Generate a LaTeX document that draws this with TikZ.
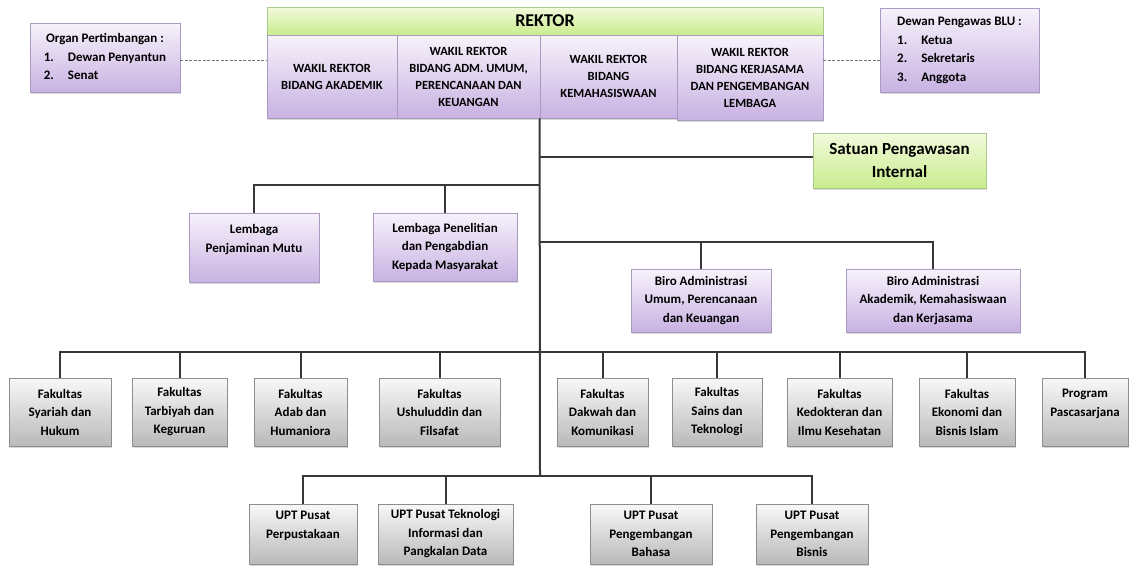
\documentclass[tikz,border=0pt]{standalone}
\usepackage{fontspec}
\setmainfont{Carlito}
\usetikzlibrary{shadows}
\definecolor{pTop}{HTML}{F7F2FB}
\definecolor{pBot}{HTML}{C8B2E2}
\definecolor{pLine}{HTML}{A99BC0}
\definecolor{gTop}{HTML}{F2FADC}
\definecolor{gBot}{HTML}{C9EC8E}
\definecolor{gLine}{HTML}{ABC98A}
\definecolor{sTop}{HTML}{F8F8F8}
\definecolor{sBot}{HTML}{B9B9B9}
\definecolor{sLine}{HTML}{8E8E8E}
\definecolor{connc}{HTML}{383838}
\tikzset{wh/.style 2 args={minimum width=#1pt, minimum height=#2pt}}
\begin{document}
\begin{tikzpicture}[x=1pt,y=-1pt,
 box/.style={align=center, inner sep=0pt, line width=0.8pt, drop shadow={shadow xshift=1.2pt, shadow yshift=-1.5pt, opacity=0.3}},
 pbox/.style={box, draw=pLine, top color=pTop, bottom color=pBot},
 gbox/.style={box, draw=gLine, top color=gTop, bottom color=gBot},
 sbox/.style={box, draw=sLine, top color=sTop, bottom color=sBot},
 small/.style={font=\bfseries\fontsize{13pt}{18.5pt}\selectfont},
 caps/.style={font=\bfseries\fontsize{12.5pt}{17pt}\selectfont},
 conn/.style={draw=connc, line width=2pt},
 dashconn/.style={draw=black!55, line width=1pt, dash pattern=on 3pt off 1.5pt},
]
\fill[white] (0,0) rectangle (1132,568);
\useasboundingbox (0,0) rectangle (1132,568);

% top
\node[gbox, wh={556}{28}, font=\bfseries\fontsize{18pt}{20pt}\selectfont] (rektor) at (545,21) {REKTOR};
\node[pbox, caps, wh={130}{83}] (w1) at (332,76.5) {WAKIL REKTOR\\BIDANG AKADEMIK};
\node[pbox, caps, wh={143}{83}] (w2) at (468.5,76.5) {WAKIL REKTOR\\BIDANG ADM. UMUM,\\PERENCANAAN DAN\\KEUANGAN};
\node[pbox, caps, wh={137}{83}] (w3) at (608.5,76.5) {WAKIL REKTOR\\BIDANG\\KEMAHASISWAAN};
\node[pbox, caps, wh={146}{85}] (w4) at (750,77.5) {WAKIL REKTOR\\BIDANG KERJASAMA\\DAN PENGEMBANGAN\\LEMBAGA};

\node[pbox, small, wh={150}{69}] (organ) at (105,57.5) {\begin{tabular}{@{}l@{\hspace{14pt}}l@{}}\multicolumn{2}{@{}c@{}}{Organ Pertimbangan :}\\ 1. & Dewan Penyantun\\ 2. & Senat\end{tabular}};
\node[pbox, small, wh={159}{84}] (dewan) at (959.5,50) {\begin{tabular}{@{}l@{\hspace{14pt}}l@{}}\multicolumn{2}{@{}c@{}}{Dewan Pengawas BLU :}\\ 1. & Ketua\\ 2. & Sekretaris\\ 3. & Anggota\end{tabular}};

\draw[dashconn] ([yshift=-2.5pt]organ.east) -- ([yshift=-2.5pt]organ.east -| w1.west);
\draw[dashconn] ([yshift=-10pt]dewan.west -| w4.east) -- ([yshift=-10pt]dewan.west);

% middle
\node[gbox, wh={173}{55}, font=\bfseries\fontsize{17pt}{23pt}\selectfont] (spi) at (899.5,160.5) {Satuan Pengawasan\\Internal};
\node[pbox, small, wh={130}{69}] (lpm) at (254,247.5) {Lembaga\\Penjaminan Mutu\\\mbox{}};
\node[pbox, small, wh={144}{68}] (lppm) at (445,247) {Lembaga Penelitian\\dan Pengabdian\\Kepada Masyarakat};
\node[pbox, small, wh={140}{63}] (b1) at (701,300.5) {Biro Administrasi\\Umum, Perencanaan\\dan Keuangan};
\node[pbox, small, wh={174}{63}] (b2) at (933,300.5) {Biro Administrasi\\Akademik, Kemahasiswaan\\dan Kerjasama};

% faculties
\node[sbox, small, wh={102}{68}] (f1) at (60,412) {Fakultas\\Syariah dan\\Hukum};
\node[sbox, small, wh={95}{68}] (f2) at (179.5,412) {Fakultas\\Tarbiyah dan\\Keguruan};
\node[sbox, small, wh={93}{68}] (f3) at (300.5,412) {Fakultas\\Adab dan\\Humaniora};
\node[sbox, small, wh={121}{68}] (f4) at (439.5,412) {Fakultas\\Ushuluddin dan\\Filsafat};
\node[sbox, small, wh={91}{68}] (f5) at (602.5,412) {Fakultas\\Dakwah dan\\Komunikasi};
\node[sbox, small, wh={90}{68}] (f6) at (717,412) {Fakultas\\Sains dan\\Teknologi};
\node[sbox, small, wh={105}{68}] (f7) at (839.5,412) {Fakultas\\Kedokteran dan\\Ilmu Kesehatan};
\node[sbox, small, wh={96}{68}] (f8) at (967,412) {Fakultas\\Ekonomi dan\\Bisnis Islam};
\node[sbox, small, wh={86}{68}] (f9) at (1085,412) {Program\\Pascasarjana\\\mbox{}};

% UPT
\node[sbox, small, wh={108}{60}] (u1) at (303,534) {UPT Pusat\\Perpustakaan\\\mbox{}};
\node[sbox, small, wh={135}{60}] (u2) at (445.5,534) {UPT Pusat Teknologi\\Informasi dan\\Pangkalan Data};
\node[sbox, small, wh={122}{60}] (u3) at (651,534) {UPT Pusat\\Pengembangan\\Bahasa};
\node[sbox, small, wh={112}{60}] (u4) at (812,534) {UPT Pusat\\Pengembangan\\Bisnis};

% junctions
\coordinate (jS) at (540,157);
\coordinate (jL) at (540,185);
\coordinate (jB) at (540,242);
\coordinate (jF) at (540,352);
\coordinate (jU) at (540,476);

\draw[conn] (w3.south west) -- (jU);
\draw[conn] (jS) -- (jS -| spi.west);
\draw[conn] (jL) -| (lpm.north);
\draw[conn] (lppm.north) -- (lppm.north |- jL);
\draw[conn] (jB) -| (b2.north);
\draw[conn] (b1.north) -- (b1.north |- jB);
\draw[conn] (f1.north) |- (jF) -| (f9.north);
\foreach \n in {f2,f3,f4,f5,f6,f7,f8} \draw[conn] (\n.north) -- (\n.north |- jF);
\draw[conn] (u1.north) |- (jU) -| (u4.north);
\foreach \n in {u2,u3} \draw[conn] (\n.north) -- (\n.north |- jU);
\end{tikzpicture}
\end{document}
